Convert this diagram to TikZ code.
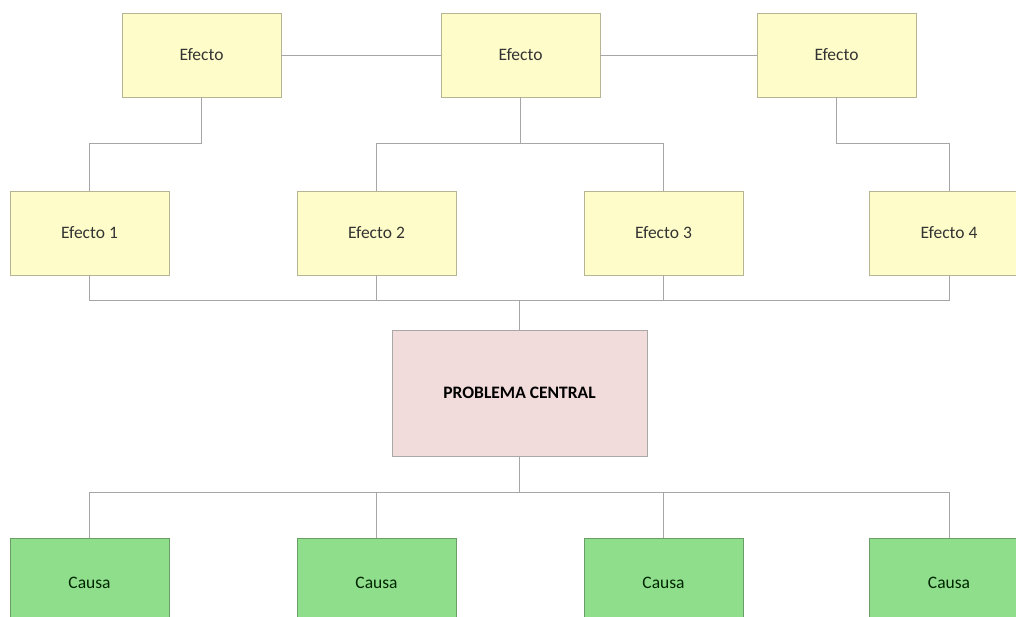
\documentclass[tikz,border=0pt]{standalone}
\usepackage{fontspec}
\setmainfont{Carlito}
\begin{document}
\begin{tikzpicture}[x=1pt,y=-1pt,
  box/.style={draw, line width=0.9pt, minimum width=159pt, minimum height=84pt, inner sep=0pt, font=\fontsize{17.5}{20}\selectfont, text=black!80},
  efecto/.style={box, fill=yelfill, draw=yelline},
  causa/.style={box, fill=grnfill, draw=grnline, minimum height=90pt, text=black!85!green},
  prob/.style={box, fill=pinkfill, draw=pinkline, minimum width=255pt, minimum height=126pt, font=\bfseries\fontsize{17.5}{20}\selectfont, text=black},
  conn/.style={draw=lineclr, line width=0.9pt}]
\definecolor{yelfill}{HTML}{FEFDC9}
\definecolor{yelline}{HTML}{B5B593}
\definecolor{grnfill}{HTML}{8FDE8C}
\definecolor{grnline}{HTML}{6A9E66}
\definecolor{pinkfill}{HTML}{F1DCDB}
\definecolor{pinkline}{HTML}{A8A8A8}
\definecolor{lineclr}{HTML}{A6A6A6}
\useasboundingbox (0,0) rectangle (1016,616);
\begin{scope}
\clip (0,0) rectangle (1016,616);
% top row
\node[efecto] (t1) at (201.5,55) {Efecto};
\node[efecto] (t2) at (520.5,55) {Efecto};
\node[efecto] (t3) at (836.5,55) {Efecto};
% second row
\node[efecto] (e1) at (89.5,233) {Efecto 1};
\node[efecto] (e2) at (376.5,233) {Efecto 2};
\node[efecto] (e3) at (663.5,233) {Efecto 3};
\node[efecto] (e4) at (949,233) {Efecto 4};
% central
\node[prob] (p) at (519.5,393) {PROBLEMA CENTRAL};
% causes
\node[causa] (c1) at (89.5,583) {Causa};
\node[causa] (c2) at (376.5,583) {Causa};
\node[causa] (c3) at (663.5,583) {Causa};
\node[causa] (c4) at (949,583) {Causa};
\end{scope}
% connectors top row
\draw[conn] (t1.east) -- (t2.west);
\draw[conn] (t2.east) -- (t3.west);
\coordinate (h1) at (0,143);
\draw[conn] (t1.south) |- (e1.north |- h1) -- (e1.north);
\draw[conn] (t2.south) -- (t2.south |- h1);
\draw[conn] (e2.north) -- (e2.north |- h1) -- (e3.north |- h1) -- (e3.north);
\draw[conn] (t3.south) |- (e4.north |- h1) -- (e4.north);
% row 2 to problem
\coordinate (h2) at (0,300);
\draw[conn] (e1.south) -- (e1.south |- h2) -- (e4.south |- h2) -- (e4.south);
\draw[conn] (e2.south) -- (e2.south |- h2);
\draw[conn] (e3.south) -- (e3.south |- h2);
\draw[conn] (p.north) -- (p.north |- h2);
% problem to causes
\coordinate (h3) at (0,492);
\draw[conn] (p.south) -- (p.south |- h3);
\draw[conn] (c1.north) -- (c1.north |- h3) -- (c4.north |- h3) -- (c4.north);
\draw[conn] (c2.north) -- (c2.north |- h3);
\draw[conn] (c3.north) -- (c3.north |- h3);
\end{tikzpicture}
\end{document}
